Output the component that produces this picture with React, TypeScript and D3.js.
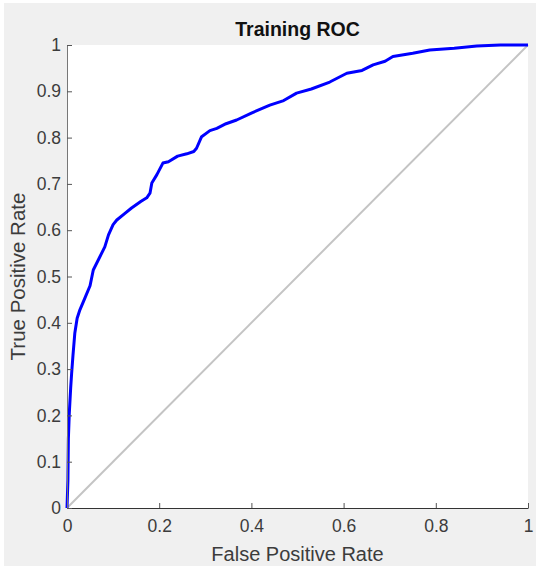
import React, { useRef, useEffect } from 'react';
import * as d3 from 'd3';

// ROC curve points
const fpr = [0, 0.002, 0.003, 0.005, 0.008, 0.01, 0.013, 0.017, 0.022, 0.028, 0.039, 0.05, 0.057, 0.07, 0.082, 0.09, 0.1, 0.108, 0.125, 0.14, 0.16, 0.173, 0.18, 0.184, 0.195, 0.208, 0.22, 0.24, 0.26, 0.275, 0.281, 0.292, 0.31, 0.325, 0.345, 0.368, 0.4, 0.44, 0.47, 0.498, 0.53, 0.57, 0.607, 0.64, 0.664, 0.69, 0.707, 0.75, 0.787, 0.84, 0.889, 0.94, 0.97, 1];
const tpr = [0, 0.06, 0.15, 0.205, 0.26, 0.29, 0.33, 0.378, 0.41, 0.428, 0.454, 0.48, 0.514, 0.54, 0.564, 0.59, 0.612, 0.622, 0.636, 0.648, 0.662, 0.67, 0.68, 0.702, 0.72, 0.745, 0.748, 0.76, 0.765, 0.77, 0.777, 0.802, 0.815, 0.82, 0.83, 0.838, 0.853, 0.87, 0.88, 0.896, 0.905, 0.92, 0.939, 0.945, 0.957, 0.965, 0.975, 0.982, 0.989, 0.993, 0.998, 1, 1, 1];
const xTicks = [0, 0.2, 0.4, 0.6, 0.8, 1];
const yTicks = [0, 0.1, 0.2, 0.3, 0.4, 0.5, 0.6, 0.7, 0.8, 0.9, 1];
const diagonal = [0, 1];

const W = 536;
const H = 567;
const FONT = '"Liberation Sans", Arial, Helvetica, sans-serif';

const App = () => {
  const ref = useRef<SVGSVGElement>(null);

  useEffect(() => {
    document.body.style.margin = '0';
    document.body.style.overflow = 'hidden';

    const svg = d3.select(ref.current);
    svg.selectAll('*').remove();

    const margin = { top: 45, right: 8, bottom: 59, left: 67 };
    const width = W - margin.left - margin.right;
    const height = H - margin.top - margin.bottom;

    // figure background
    svg.append('rect')
      .attr('x', 4).attr('y', 3)
      .attr('width', W - 4).attr('height', H - 4)
      .attr('fill', '#f0f0f0');

    const g = svg.append('g').attr('transform', `translate(${margin.left},${margin.top})`);

    const x = d3.scaleLinear().domain([0, 1]).range([0, width]);
    const y = d3.scaleLinear().domain([0, 1]).range([height, 0]);

    g.append('rect')
      .attr('width', width).attr('height', height)
      .attr('fill', '#ffffff');

    // chance line
    g.append('line')
      .attr('x1', x(diagonal[0])).attr('y1', y(diagonal[0]))
      .attr('x2', x(diagonal[1])).attr('y2', y(diagonal[1]))
      .attr('stroke', '#c4c4c4')
      .attr('stroke-width', 2);

    const pts = fpr.map((f, i) => [f, tpr[i]] as [number, number]);
    const line = d3.line<[number, number]>()
      .x(d => x(d[0]))
      .y(d => y(d[1]));

    g.append('path')
      .datum(pts)
      .attr('fill', 'none')
      .attr('stroke', '#0000ff')
      .attr('stroke-width', 3)
      .attr('stroke-linejoin', 'round')
      .attr('d', line);

    // axes, ticks pointing inward like MATLAB
    const xAxis = g.append('g')
      .attr('transform', `translate(0,${height})`)
      .call(d3.axisBottom(x).tickValues(xTicks).tickSizeInner(-5).tickSizeOuter(0).tickPadding(12).tickFormat(d => String(d)));
    const yAxis = g.append('g')
      .call(d3.axisLeft(y).tickValues(yTicks).tickSizeInner(-5).tickSizeOuter(0).tickPadding(6).tickFormat(d => String(d)));

    [xAxis, yAxis].forEach(a => {
      a.selectAll('text')
        .attr('fill', '#3c3c3c')
        .style('font-family', FONT)
        .style('font-size', '17.5px');
      a.selectAll('.tick line').attr('stroke', '#555');
    });
    xAxis.select('.domain').attr('stroke', '#333');
    yAxis.select('.domain').attr('stroke', '#777');

    svg.append('text')
      .attr('x', margin.left + width / 2)
      .attr('y', 36)
      .attr('text-anchor', 'middle')
      .style('font-family', FONT)
      .style('font-size', '19.5px')
      .style('font-weight', 'bold')
      .attr('fill', '#111')
      .text('Training ROC');

    svg.append('text')
      .attr('x', margin.left + width / 2)
      .attr('y', 561)
      .attr('text-anchor', 'middle')
      .style('font-family', FONT)
      .style('font-size', '20px')
      .attr('fill', '#3c3c3c')
      .text('False Positive Rate');

    svg.append('text')
      .attr('transform', `translate(25,${margin.top + height / 2}) rotate(-90)`)
      .attr('text-anchor', 'middle')
      .style('font-family', FONT)
      .style('font-size', '20.5px')
      .attr('fill', '#3c3c3c')
      .text('True Positive Rate');
  }, []);

  return <svg ref={ref} width={W} height={H} style={{ display: 'block' }} />;
};

export default App;
